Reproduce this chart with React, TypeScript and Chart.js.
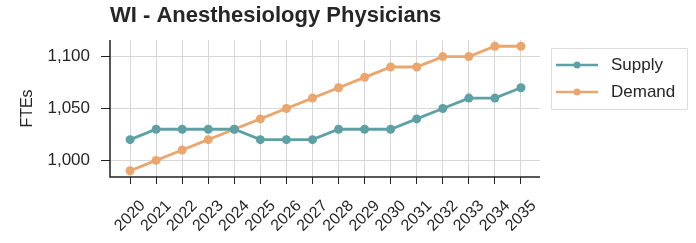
import React, { useEffect, useRef } from "react";
import { Chart, registerables } from "chart.js";
Chart.register(...registerables);

const years = [2020, 2021, 2022, 2023, 2024, 2025, 2026, 2027, 2028, 2029, 2030, 2031, 2032, 2033, 2034, 2035];
const supply = [1020, 1030, 1030, 1030, 1030, 1020, 1020, 1020, 1030, 1030, 1030, 1040, 1050, 1060, 1060, 1070];
const demand = [990, 1000, 1010, 1020, 1030, 1040, 1050, 1060, 1070, 1080, 1090, 1090, 1100, 1100, 1110, 1110];
const yTicks = [1000, 1050, 1100];
const titleText = "WI - Anesthesiology Physicians";
const yTitle = "FTEs";
const seriesNames = ["Supply", "Demand"];
const colors = ["#5fa0a5", "#eaa66f"];

const FONT = "Arial, 'Liberation Sans', sans-serif";
const TEXT = "#262626";

const decorPlugin = {
  id: "decor",
  beforeDraw(chart: any) {
    const { ctx } = chart;
    ctx.save();
    ctx.fillStyle = "#ffffff";
    ctx.fillRect(0, 0, chart.width, chart.height);
    ctx.restore();
  },
  afterDatasetsDraw(chart: any) {
    const { ctx, chartArea } = chart;
    const xs = chart.scales.x;
    ctx.save();
    // axes spines
    ctx.strokeStyle = "#222222";
    ctx.lineWidth = 1.5;
    ctx.beginPath();
    ctx.moveTo(chartArea.left, chartArea.top);
    ctx.lineTo(chartArea.left, chartArea.bottom);
    ctx.lineTo(chartArea.right, chartArea.bottom);
    ctx.stroke();
    // title
    ctx.fillStyle = TEXT;
    ctx.font = `bold 22px ${FONT}`;
    ctx.textBaseline = "middle";
    ctx.textAlign = "left";
    ctx.fillText(titleText, chartArea.left, 16);
    // y title
    ctx.save();
    ctx.translate(28, (chartArea.top + chartArea.bottom) / 2);
    ctx.rotate(-Math.PI / 2);
    ctx.textAlign = "center";
    ctx.font = `16px ${FONT}`;
    ctx.fillText(yTitle, 0, 0);
    ctx.restore();
    // x tick labels, centred on ticks, rotated 45°
    ctx.font = `16px ${FONT}`;
    years.forEach((yr) => {
      const x = xs.getPixelForValue(yr);
      ctx.save();
      ctx.translate(x, 216);
      ctx.rotate(-Math.PI / 4);
      ctx.textAlign = "center";
      ctx.textBaseline = "middle";
      ctx.fillText(String(yr), 0, 0);
      ctx.restore();
    });
    // legend
    const lx = 551, ly = 48, lw = 136, lh = 61;
    ctx.fillStyle = "rgba(255,255,255,0.9)";
    ctx.strokeStyle = "#dddddd";
    ctx.lineWidth = 1;
    ctx.beginPath();
    ctx.rect(lx + 0.5, ly + 0.5, lw, lh);
    ctx.fill();
    ctx.stroke();
    ctx.font = `17px ${FONT}`;
    ctx.textAlign = "left";
    seriesNames.forEach((name, i) => {
      const y = 65 + i * 27;
      ctx.strokeStyle = colors[i];
      ctx.lineWidth = 2.5;
      ctx.beginPath();
      ctx.moveTo(556, y);
      ctx.lineTo(598, y);
      ctx.stroke();
      ctx.fillStyle = colors[i];
      ctx.beginPath();
      ctx.arc(577, y, 3.5, 0, Math.PI * 2);
      ctx.fill();
      ctx.fillStyle = TEXT;
      ctx.fillText(name, 611, y);
    });
    ctx.restore();
  },
};

export default function App() {
  const ref = useRef<HTMLCanvasElement>(null);
  useEffect(() => {
    document.body.style.margin = "0";
    const chart = new Chart(ref.current!, {
      type: "line",
      data: {
        datasets: seriesNames.map((name, i) => ({
          label: name,
          data: years.map((y, j) => ({ x: y, y: (i === 0 ? supply : demand)[j] })),
          borderColor: colors[i],
          backgroundColor: colors[i],
          borderWidth: 2.8,
          pointRadius: 4.5,
          pointBorderWidth: 0,
          tension: 0,
        })),
      },
      options: {
        animation: false,
        responsive: false,
        layout: { padding: { top: 40, right: 156, bottom: 0, left: 0 } },
        plugins: { legend: { display: false }, title: { display: false }, tooltip: { enabled: false } },
        scales: {
          x: {
            type: "linear",
            min: 2019.23,
            max: 2035.73,
            afterBuildTicks: (axis: any) => {
              axis.ticks = years.map((v) => ({ value: v }));
            },
            afterFit: (axis: any) => {
              axis.height = 66;
            },
            ticks: {
              display: false,
              autoSkip: false,
            },
            grid: {
              color: "#d6d6d6",
              lineWidth: 1,
              drawTicks: true,
              tickLength: 7,
              tickColor: "#222222",
            },
            border: { display: false },
          },
          y: {
            min: 984,
            max: 1116,
            afterBuildTicks: (axis: any) => {
              axis.ticks = yTicks.map((v) => ({ value: v }));
            },
            afterFit: (axis: any) => {
              axis.width = 110;
            },
            ticks: {
              color: TEXT,
              font: { family: FONT, size: 17 },
              padding: 11,
              callback: (v: any) => Number(v).toLocaleString("en-US"),
            },
            grid: {
              color: "#d6d6d6",
              lineWidth: 1,
              tickLength: 9,
              tickColor: "#222222",
            },
            border: { display: false },
          },
        },
      },
      plugins: [decorPlugin],
    });
    return () => chart.destroy();
  }, []);
  return <canvas ref={ref} width={696} height={243} style={{ display: "block" }} />;
}
